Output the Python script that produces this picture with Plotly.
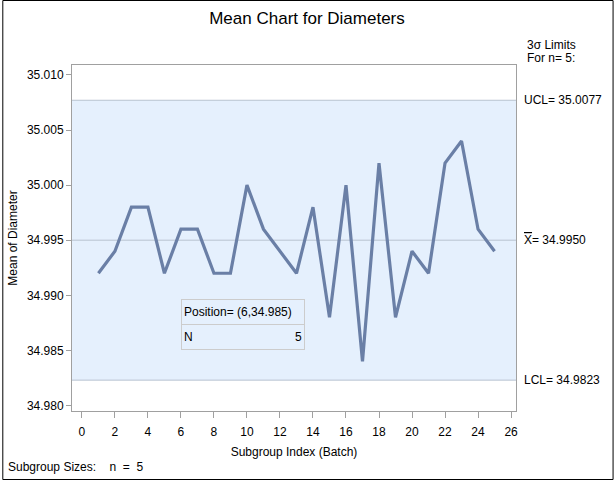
import plotly.graph_objects as go

batch = list(range(1, 26))
means = [34.992, 34.994, 34.998, 34.998, 34.992, 34.996, 34.996, 34.992, 34.992, 35.000,
         34.996, 34.994, 34.992, 34.998, 34.988, 35.000, 34.984, 35.002, 34.988, 34.994,
         34.992, 35.002, 35.004, 34.996, 34.994]
ucl = 35.0077
center = 34.9950
lcl = 34.9823
n_size = 5
x_ticks = list(range(0, 27, 2))
y_ticks = [34.980, 34.985, 34.990, 34.995, 35.000, 35.005, 35.010]
inset_pos = (6, 34.985)

FONT = "Liberation Sans, Arial, sans-serif"
W, H = 614, 480
ML, MR, MT, MB = 70, 98, 65, 69
PW, PH = W - ML - MR, H - MT - MB

band = "#e5f0fd"
ref_line = "#b8c2d0"
frame = "#a0a0a0"

fig = go.Figure()
fig.add_trace(go.Scatter(x=batch, y=means, mode="lines",
                         line=dict(color="#6a7fa6", width=3.2), hoverinfo="skip"))

shapes = [
    dict(type="rect", xref="paper", yref="y", x0=0, x1=1, y0=lcl, y1=ucl,
         fillcolor=band, line=dict(width=0), layer="below"),
    dict(type="line", xref="paper", yref="y", x0=0, x1=1, y0=ucl, y1=ucl,
         line=dict(color=ref_line, width=1), layer="below"),
    dict(type="line", xref="paper", yref="y", x0=0, x1=1, y0=center, y1=center,
         line=dict(color=ref_line, width=1), layer="below"),
    dict(type="line", xref="paper", yref="y", x0=0, x1=1, y0=lcl, y1=lcl,
         line=dict(color=ref_line, width=1), layer="below"),
    # outer black border
    dict(type="rect", xref="paper", yref="paper",
         x0=-(ML - 0.5) / PW, x1=(W - ML - 0.5) / PW,
         y0=-(MB - 0.5) / PH, y1=(H - MB - 0.5) / PH,
         line=dict(color="black", width=1), fillcolor="rgba(0,0,0,0)"),
]

tf = dict(family=FONT, size=12, color="black")
nb = "\u00a0"
annotations = [
    dict(text="3σ Limits", xref="paper", yref="paper", x=(525 - ML) / PW, y=(H - MB - 45) / PH,
         xanchor="left", yanchor="middle", showarrow=False, font=tf),
    dict(text=f"For n= {n_size}:", xref="paper", yref="paper", x=(525 - ML) / PW, y=(H - MB - 58) / PH,
         xanchor="left", yanchor="middle", showarrow=False, font=tf),
    dict(text=f"UCL= {ucl:.4f}", xref="paper", yref="y", x=(522 - ML) / PW, y=ucl,
         xanchor="left", yanchor="middle", showarrow=False, font=tf),
    dict(text=f"<span style='text-decoration:overline'>X</span>= {center:.4f}", xref="paper", yref="y",
         x=(522 - ML) / PW, y=center, xanchor="left", yanchor="middle", showarrow=False, font=tf),
    dict(text=f"LCL= {lcl:.4f}", xref="paper", yref="y", x=(522 - ML) / PW, y=lcl,
         xanchor="left", yanchor="middle", showarrow=False, font=tf),
    dict(text=f"Subgroup Sizes:{nb*4}n{nb*2}={nb*2}{n_size}", xref="paper", yref="paper",
         x=-(ML - 4) / PW, y=-(467 - (H - MB)) / PH, xanchor="left", yanchor="middle",
         showarrow=False, font=tf),
    # inset table
    dict(text=f"Position= ({inset_pos[0]},{inset_pos[1]})", xref="x", yref="y",
         x=inset_pos[0], y=inset_pos[1], xanchor="left", yanchor="bottom", yshift=25,
         width=118, height=20, align="left", showarrow=False, font=tf,
         bgcolor=band, bordercolor="#cccccc", borderwidth=1, borderpad=2),
    dict(text="N", xref="x", yref="y",
         x=inset_pos[0], y=inset_pos[1], xanchor="left", yanchor="bottom",
         width=118, height=20, align="left", showarrow=False, font=tf,
         bgcolor=band, bordercolor="#cccccc", borderwidth=1, borderpad=2),
    dict(text=str(n_size), xref="x", yref="y",
         x=inset_pos[0], y=inset_pos[1], xanchor="left", yanchor="bottom",
         width=118, height=20, align="right", showarrow=False, font=tf,
         borderpad=2),
]

fig.update_layout(
    width=W, height=H,
    margin=dict(l=ML, r=MR, t=MT, b=MB),
    paper_bgcolor="white", plot_bgcolor="white",
    showlegend=False,
    font=dict(family=FONT, size=12, color="black"),
    title=dict(text="Mean Chart for Diameters", x=0.5, xref="container", xanchor="center",
               y=1 - 18 / H, yanchor="middle", font=dict(family=FONT, size=17, color="black")),
    shapes=shapes, annotations=annotations,
    xaxis=dict(range=[-0.6, 26.3], tickvals=x_ticks, ticks="outside", ticklen=6,
               tickcolor=frame, showgrid=False, zeroline=False, ticklabelstandoff=4,
               showline=True, linecolor=frame, mirror=True,
               title=dict(text="Subgroup Index (Batch)", standoff=9, font=tf), tickfont=tf),
    yaxis=dict(range=[34.9795, 35.0109], tickvals=y_ticks, tickformat=".3f", ticks="outside",
               ticklen=5, tickcolor=frame, showgrid=False, zeroline=False,
               showline=True, linecolor=frame, mirror=True,
               title=dict(text="Mean of Diameter", standoff=6, font=tf), tickfont=tf),
)

fig.write_html("out.html", config={"displayModeBar": False},
               post_script="document.body.style.margin='0px';")
